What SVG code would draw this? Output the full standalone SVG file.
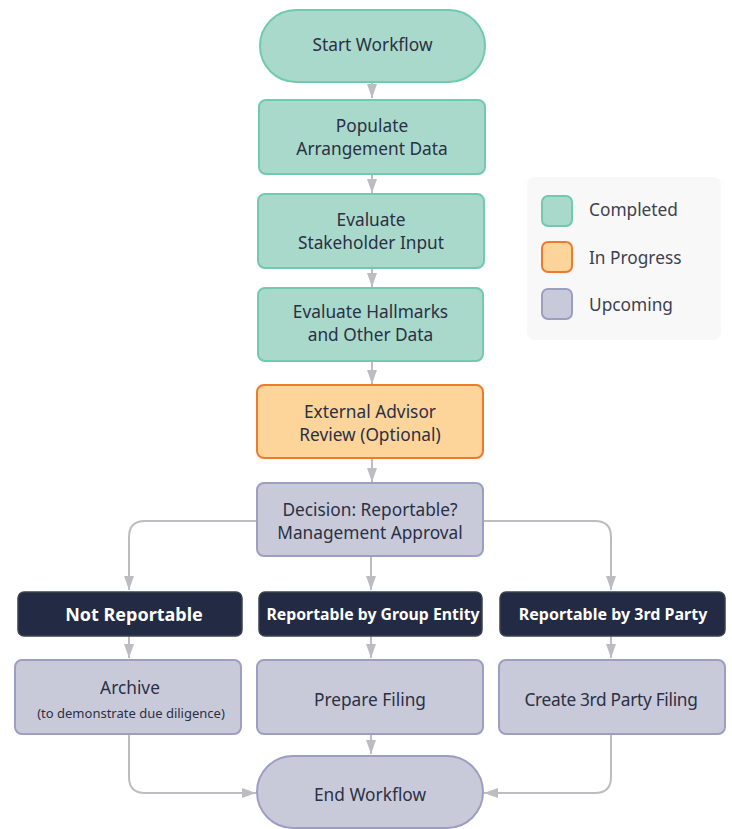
<svg xmlns="http://www.w3.org/2000/svg" width="732" height="829" viewBox="0 0 732 829">
<defs>
<style>
text{font-family:"Noto Sans","Open Sans",sans-serif;font-size:17.3px;fill:#2b3044;text-anchor:middle}
.done{fill:#a9d9cb;stroke:#6fcaae;stroke-width:2}
.prog{fill:#fdd59a;stroke:#ef7a2f;stroke-width:2}
.up{fill:#c8cada;stroke:#9c9ec2;stroke-width:2}
.dark{fill:#222a44;stroke:#3d4150;stroke-width:1.5}
.dt{fill:#ffffff;font-weight:bold}
.c{fill:none;stroke:#bdbdc1;stroke-width:2}
.lg{fill:#3d4150;text-anchor:start;font-size:17.3px}
</style>
<marker id="ah" viewBox="0 0 14 10" refX="14" refY="5" markerWidth="14" markerHeight="10" markerUnits="userSpaceOnUse" orient="auto">
<path d="M0,0 L14,5 L0,10 Z" fill="#bdbdc1"/>
</marker>
</defs>
<rect width="732" height="829" fill="#ffffff"/>
<g id="connectors">
<path class="c" d="M372,82 V98" marker-end="url(#ah)"/>
<path class="c" d="M372,174 V193" marker-end="url(#ah)"/>
<path class="c" d="M372,268 V287" marker-end="url(#ah)"/>
<path class="c" d="M372,361 V384" marker-end="url(#ah)"/>
<path class="c" d="M372,458 V482" marker-end="url(#ah)"/>
<path class="c" d="M257,521 H145 Q129,521 129,537 V590" marker-end="url(#ah)"/>
<path class="c" d="M371,556 V590" marker-end="url(#ah)"/>
<path class="c" d="M483,521 H595 Q611,521 611,537 V590" marker-end="url(#ah)"/>
<path class="c" d="M129,636 V658" marker-end="url(#ah)"/>
<path class="c" d="M371,636 V658" marker-end="url(#ah)"/>
<path class="c" d="M611,636 V658" marker-end="url(#ah)"/>
<path class="c" d="M371,734 V754" marker-end="url(#ah)"/>
<path class="c" d="M129,734 V777 Q129,793 145,793 H256" marker-end="url(#ah)"/>
<path class="c" d="M611,734 V777 Q611,793 595,793 H484" marker-end="url(#ah)"/>
</g>
<g id="start"><rect class="done" x="260" y="10" width="225" height="72" rx="36"/><text x="372.5" y="51">Start Workflow</text></g>
<g id="populate"><rect class="done" x="259" y="100" width="226" height="74" rx="7"/><text x="372" y="132">Populate</text><text x="372" y="155">Arrangement Data</text></g>
<g id="stakeholder"><rect class="done" x="258" y="194" width="226" height="74" rx="7"/><text x="371" y="226">Evaluate</text><text x="371" y="249">Stakeholder Input</text></g>
<g id="hallmarks"><rect class="done" x="258" y="288" width="225" height="73" rx="7"/><text x="370.5" y="318">Evaluate Hallmarks</text><text x="370.5" y="341">and Other Data</text></g>
<g id="advisor"><rect class="prog" x="257" y="385" width="226" height="73" rx="7"/><text x="370" y="418">External Advisor</text><text x="370" y="441">Review (Optional)</text></g>
<g id="decision"><rect class="up" x="257" y="483" width="226" height="73" rx="7"/><text x="370" y="516">Decision: Reportable?</text><text x="370" y="539">Management Approval</text></g>
<g id="notrep"><rect class="dark" x="18" y="592" width="224" height="44" rx="6"/><text class="dt" x="134" y="621" style="font-size:18px">Not Reportable</text></g>
<g id="repgroup"><rect class="dark" x="259" y="592" width="223" height="44" rx="6"/><text class="dt" x="373" y="620" style="font-size:15.8px">Reportable by Group Entity</text></g>
<g id="rep3rd"><rect class="dark" x="500" y="592" width="225" height="44" rx="6"/><text class="dt" x="613" y="620" style="font-size:16px">Reportable by 3rd Party</text></g>
<g id="archive"><rect class="up" x="15" y="660" width="226" height="74" rx="7"/><text x="130" y="694">Archive</text><text x="131" y="718" style="font-size:13px">(to demonstrate due diligence)</text></g>
<g id="prepare"><rect class="up" x="257" y="660" width="226" height="74" rx="7"/><text x="370" y="706">Prepare Filing</text></g>
<g id="create3rd"><rect class="up" x="499" y="660" width="226" height="74" rx="7"/><text x="611" y="706" style="letter-spacing:-0.3px">Create 3rd Party Filing</text></g>
<g id="end"><rect class="up" x="257" y="756" width="226" height="72" rx="36"/><text x="370" y="801">End Workflow</text></g>
<g id="legend">
<rect x="527" y="177" width="194" height="163" rx="8" fill="#f8f8f8"/>
<rect class="done" x="542" y="196" width="30" height="30" rx="6"/><text class="lg" x="589" y="216">Completed</text>
<rect class="prog" x="542" y="242" width="30" height="30" rx="6"/><text class="lg" x="589" y="264">In Progress</text>
<rect class="up" x="542" y="289" width="30" height="30" rx="6"/><text class="lg" x="589" y="311">Upcoming</text>
</g>
</svg>
